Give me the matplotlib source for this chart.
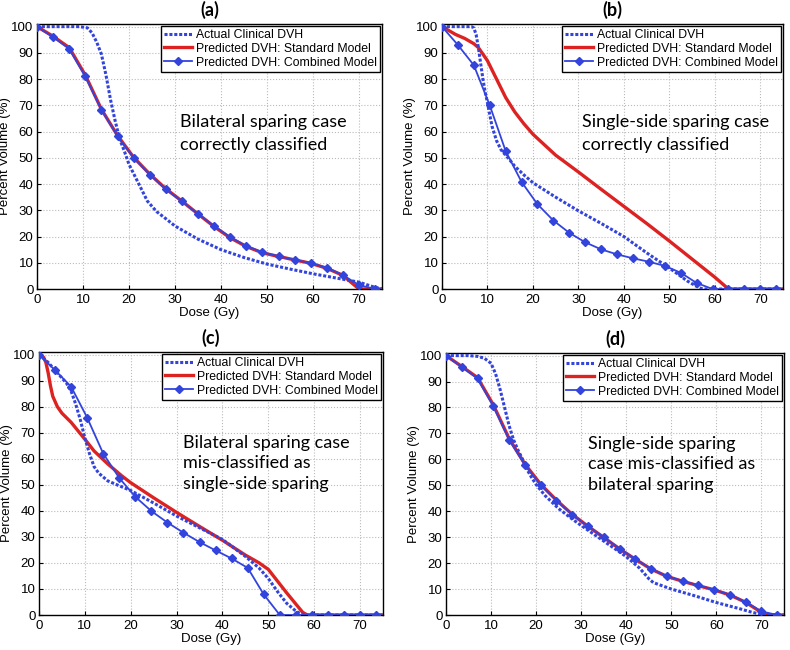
import numpy as np
import matplotlib.pyplot as plt

# =============================================================================
#  Data
# =============================================================================

# Combined model markers sit every 3.5 Gy
dose_markers = [0, 3.5, 7, 10.5, 14, 17.5, 21, 24.5, 28, 31.5, 35, 38.5,
                42, 45.5, 49, 52.5, 56, 59.5, 63, 66.5, 70, 73.5]

# (a) bilateral sparing, correctly classified
a_comb = [100, 96, 91.5, 81, 68.3, 58.3, 50, 43.6, 38, 33.4, 28.6, 24,
          19.8, 16.4, 14, 12.5, 11.1, 9.9, 8.1, 5.3, 1.5, 0]
a_std_dose = [0, 3.5, 7, 10.5, 14, 17.5, 21, 24.5, 28, 31.5, 35, 38.5,
              42, 45.5, 49, 52.5, 56, 59.5, 63, 66.5, 70, 75]
a_std = [100, 96.3, 92, 81.5, 68.5, 58.5, 50.2, 43.8, 38.2, 33.5, 28.6, 23.8,
         19.5, 16.2, 13.8, 12.4, 11.1, 9.8, 7.9, 5.2, 0, 0]
a_act_dose = [0, 9, 10, 11, 12, 13, 14, 15, 16, 17, 18, 19, 20, 21, 22, 24,
              26, 28, 30, 35, 40, 45, 50, 55, 60, 65, 70, 73, 75]
a_act = [100, 100, 99.8, 99.5, 97.5, 94, 89.5, 81.5, 72, 64, 57, 52.5, 47.5,
         44, 40.5, 33.5, 29.5, 26.8, 24, 19, 15, 12, 9.5, 7.6, 5.8, 4.2, 2.6,
         0.9, 0]

# (b) single-side sparing, correctly classified
b_comb = [100, 93, 85.3, 70, 52.6, 40.8, 32.3, 26.1, 21.4, 17.8, 15.1, 13.2,
          11.7, 10.4, 8.8, 6.2, 2.3, 0, 0, 0, 0, 0]
b_std_dose = [0, 3, 5, 7, 8, 9, 10, 12, 14, 16, 18, 20, 25, 30, 35, 40, 45,
              50, 55, 60, 63, 75]
b_std = [100, 97, 95.5, 93.5, 92, 89.5, 87, 80, 73, 67.5, 63, 59, 51, 44.6,
         38, 31.5, 25, 18.3, 11.4, 4.5, 0, 0]
b_act_dose = [0, 6.5, 7, 7.5, 8, 8.5, 9, 9.5, 10, 11, 12, 13, 14, 15, 16, 18,
              20, 25, 30, 35, 40, 45, 48, 50, 52, 54, 56, 57, 58, 75]
b_act = [100, 100, 99.5, 97, 92, 86, 80, 75, 71, 62, 56.5, 53, 51, 49, 46.8,
         43.5, 40.5, 35, 29.8, 25, 20, 13.8, 10.3, 8, 5.5, 3, 1, 0.2, 0, 0]

# (c) bilateral sparing, mis-classified as single-side sparing
c_comb = [100, 94, 87.7, 75.8, 62, 52.6, 45.4, 39.9, 35.5, 31.6, 28, 24.8,
          21.7, 18.1, 7.9, 0, 0, 0, 0, 0, 0, 0]
c_std_dose = [0, 1, 1.5, 2, 2.5, 3, 4, 5, 7, 10, 12, 15, 18, 20, 25, 30, 35,
              40, 45, 48, 50, 52, 54, 56, 57.5, 58.5, 75]
c_std = [100, 99, 97, 93, 88, 84, 80, 77.5, 74, 67.5, 63, 58, 53.5, 50.8,
         45, 39.4, 34, 28.7, 23, 20, 17.5, 13, 8.5, 4.2, 1, 0, 0]
c_act_dose = [0, 2, 4, 6, 7, 8, 9, 10, 11, 12, 13, 15, 17, 20, 25, 30, 35,
              40, 45, 48, 50, 52, 54, 56, 57, 58, 75]
c_act = [100, 97, 93, 89, 86, 81, 75, 68, 62, 57, 54.5, 51.5, 50, 47.8, 43,
         38, 33.5, 29, 22.5, 18, 14, 9, 4.5, 1.5, 0.5, 0, 0]

# (d) single-side sparing, mis-classified as bilateral sparing
d_comb = [100, 95.6, 91.2, 80.5, 67.6, 57.9, 50, 44.1, 38.7, 34.2, 30, 25.6,
          21.6, 17.8, 15, 13.1, 11.4, 9.8, 7.8, 5, 1.4, 0]
d_std_dose = [0, 3.5, 7, 10.5, 14, 17.5, 21, 24.5, 28, 31.5, 35, 38.5, 42,
              45.5, 49, 52.5, 56, 59.5, 63, 66.5, 70, 72, 75]
d_std = [100, 95.8, 91.5, 81, 68, 58.2, 50.4, 44.3, 38.8, 34.2, 29.9, 25.5,
         21.5, 17.7, 14.9, 13, 11.3, 9.7, 7.7, 4.9, 1, 0, 0]
d_act_dose = [0, 5, 7, 8.5, 10, 11, 12, 13, 14, 15, 16, 17, 18, 19, 20, 22,
              25, 28, 30, 35, 40, 43, 45, 46, 50, 55, 60, 65, 68, 70, 75]
d_act = [100, 100, 99.7, 99, 97, 93, 87, 80, 73, 67.5, 63.5, 60, 56, 53,
         50.3, 46, 41, 37, 34.5, 28.5, 22.5, 18, 14, 12.5, 10, 7.5, 4.8, 2.5,
         1, 0.2, 0]

panels = [
    ('(a)', ['Bilateral sparing case', 'correctly classified'],
     a_act_dose, a_act, a_std_dose, a_std, a_comb),
    ('(b)', ['Single-side sparing case', 'correctly classified'],
     b_act_dose, b_act, b_std_dose, b_std, b_comb),
    ('(c)', ['Bilateral sparing case', 'mis-classified as', 'single-side sparing'],
     c_act_dose, c_act, c_std_dose, c_std, c_comb),
    ('(d)', ['Single-side sparing', 'case mis-classified as', 'bilateral sparing'],
     d_act_dose, d_act, d_std_dose, d_std, d_comb),
]

# axes boxes in figure pixels (left, top, right, bottom), figure 790x650
boxes = [(37, 24, 382, 289), (442, 24, 783, 289),
         (39, 352, 383, 615), (446, 353, 784, 615)]
# annotation anchor (axes fraction) and line spacing per panel
note_pos = [(0.415, 0.66, 1.5), (0.41, 0.66, 1.5),
            (0.42, 0.685, 1.35), (0.42, 0.685, 1.35)]

blue = '#3344dd'
red = '#dd2222'

plt.rcParams['font.family'] = ['Liberation Sans', 'DejaVu Sans']
fig = plt.figure(figsize=(7.9, 6.5), dpi=100)

for (title, note, act_x, act_y, std_x, std_y, comb_y), box, npos in zip(panels, boxes, note_pos):
    l, t, r, b = box
    ax = fig.add_axes([l / 790, 1 - b / 650, (r - l) / 790, (b - t) / 650])

    ax.plot(act_x, act_y, color=blue, linestyle=(0, (1, 0.6)), linewidth=2.2,
            label='Actual Clinical DVH', zorder=3)
    ax.plot(std_x, std_y, color=red, linewidth=2.4,
            label='Predicted DVH: Standard Model', zorder=2)
    ax.plot(dose_markers, comb_y, color=blue, linewidth=1.3, marker='D',
            markersize=4, label='Predicted DVH: Combined Model', zorder=4)

    ax.set_xlim(0, 75)
    ax.set_ylim(0, 101)
    ax.set_xticks(np.arange(0, 80, 10))
    ax.set_yticks(np.arange(0, 110, 10))
    ax.tick_params(direction='in', labelsize=9.5, length=3)
    ax.tick_params(axis='x', pad=3.5)
    ax.tick_params(axis='y', pad=2.5)
    ax.grid(True, color='#bbbbbb', linestyle=':', linewidth=0.8)
    for s in ax.spines.values():
        s.set_linewidth(1.0)
    ax.set_xlabel('Dose (Gy)', fontsize=9.5, labelpad=1)
    ax.set_ylabel('Percent Volume (%)', fontsize=9.5, labelpad=0)
    ax.set_title(title, fontsize=13, fontweight='bold', family='Lato', pad=6)

    leg = ax.legend(loc='upper right', fontsize=8.8, handlelength=2.3,
                    handletextpad=0.3, borderpad=0.25, labelspacing=0.15,
                    borderaxespad=0.15, fancybox=False, framealpha=1)
    leg.get_frame().set_edgecolor('black')
    leg.get_frame().set_linewidth(1.0)

    ax.text(npos[0], npos[1], '\n'.join(note), transform=ax.transAxes,
            fontsize=13, family='Lato', va='top', ha='left',
            linespacing=npos[2])

fig.savefig('out.png', dpi=100)
